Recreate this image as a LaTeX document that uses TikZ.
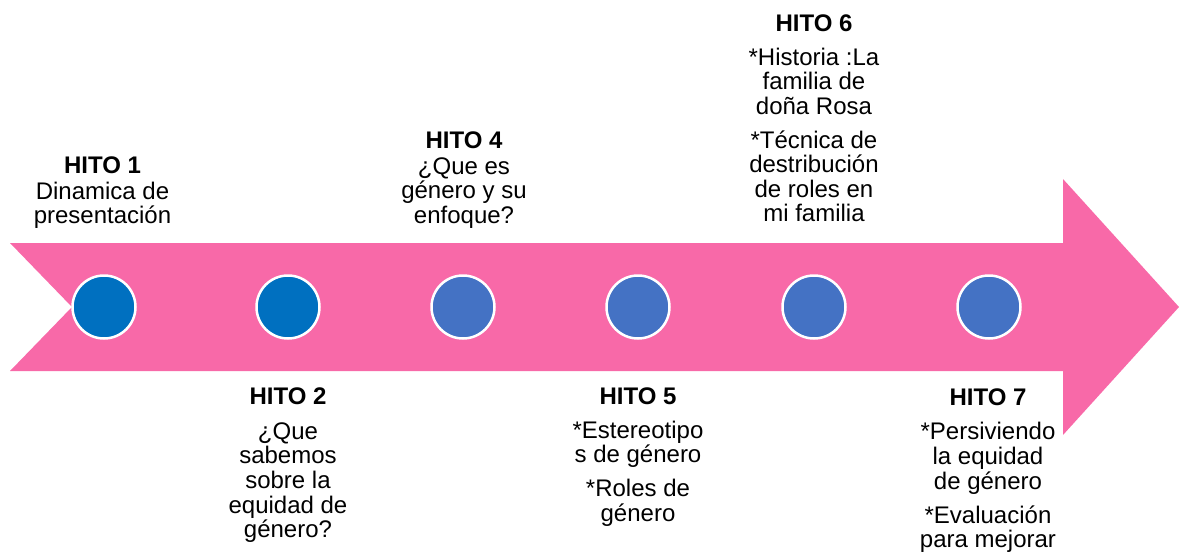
\documentclass[tikz,border=0pt]{standalone}
\usepackage{fontspec}
\setmainfont{Liberation Sans}
\definecolor{pinkarrow}{RGB}{248,105,168}
\definecolor{darkblue}{RGB}{0,112,192}
\definecolor{midblue}{RGB}{68,114,196}
\begin{document}
\begin{tikzpicture}[x=1pt,y=-1pt,
  hito/.style={align=center, inner sep=0pt, anchor=north, font=\fontsize{24}{24.6}\selectfont},
  dot/.style={circle, minimum size=63pt, inner sep=0pt, draw=white, line width=2.5pt}]
\useasboundingbox (0,0) rectangle (1179,552);
% arrow body
\fill[pinkarrow] (10,243) -- (1063,243) -- (1063,179) -- (1179,307) -- (1063,435)
  -- (1063,371) -- (10,371) -- (72,307) -- cycle;
% milestones
\node[dot, fill=darkblue] (c1) at (104,307) {};
\node[dot, fill=darkblue] (c2) at (288,307) {};
\node[dot, fill=midblue] (c3) at (463,307) {};
\node[dot, fill=midblue] (c4) at (638,307) {};
\node[dot, fill=midblue] (c5) at (814,307) {};
\node[dot, fill=midblue] (c6) at (989,307) {};
% texts
\node[hito] (h1) at (102.5,156.8) {\textbf{HITO 1}\\[1pt] Dinamica de\\ presentación};
\node[hito] (h4) at (464,131.8) {\textbf{HITO 4}\\[1pt] ¿Que es\\ género y su\\ enfoque?};
\node[hito] (h6) at (814,14.8) {\textbf{HITO 6}\\[9pt] *Historia :La\\ familia de\\ doña Rosa\\[9pt] *Técnica de\\ destribución\\ de roles en\\ mi familia};
\node[hito] (h2) at (288,387.8) {\textbf{HITO 2}\\[10pt] ¿Que\\ sabemos\\ sobre la\\ equidad de\\ género?};
\node[hito] (h5) at (638,387.8) {\textbf{HITO 5}\\[9pt] *Estereotipo\\ s de género\\[9pt] *Roles de\\ género};
\node[hito] (h7) at (988,388.8) {\textbf{HITO 7}\\[9.5pt] *Persiviendo\\ la equidad\\ de género\\[9.5pt] *Evaluación\\ para mejorar};
\end{tikzpicture}
\end{document}
